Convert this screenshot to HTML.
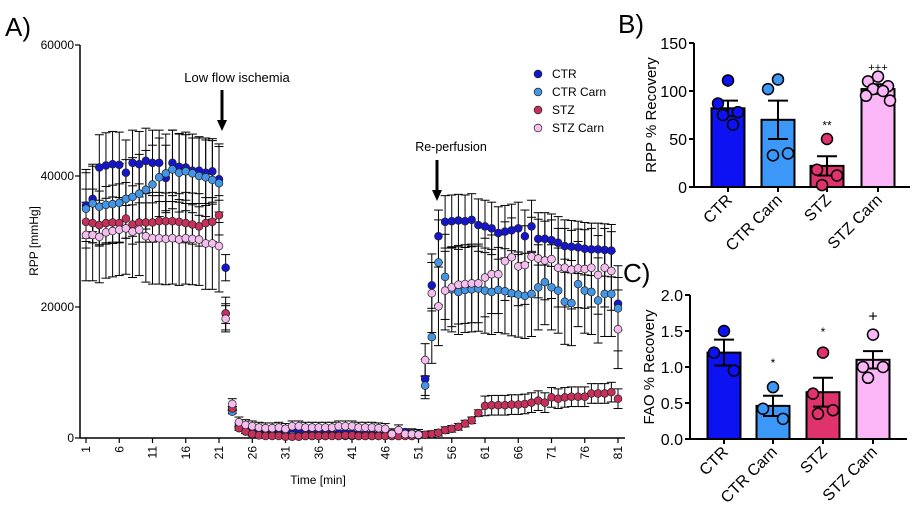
<!DOCTYPE html>
<html><head><meta charset="utf-8"><style>
html,body{margin:0;padding:0;background:#fff;}
svg{display:block;font-family:"Liberation Sans",sans-serif;}
</style></head><body>
<svg id="fig" width="918" height="512" viewBox="0 0 918 512"></svg>
<script>
// ---------- Panel A data ----------
const minutes = Array.from({length:81},(_,i)=>i+1);
const xTickLabels = ["1","6","11","16","21","26","31","36","41","46","51","56","61","66","71","76","81"];
const yTickLabelsA = [0,20000,40000,60000];
const seriesNames = ["CTR","CTR Carn","STZ","STZ Carn"];
const ctr = [35500,36500,41300,41600,41800,41700,40500,42000,41800,42300,42000,42000,39700,42000,41400,41300,40800,40800,40500,40700,39500,
26000,4500,2000,1500,1200,900,700,900,1200,
800,1000,900,800,700,700,800,700,700,800,700,600,600,600,500,500,
700,800,900,700,600,
9000,23300,30800,33000,33100,33200,33100,33300,32500,32300,32000,31300,31500,31700,32000,30800,32300,30400,30400,30200,29800,29300,29200,29100,28900,28800,28800,28700,28600,20500];
const ctrCarn = [35000,35800,35300,35600,35700,35900,36500,36800,37300,37900,38700,39800,40400,41000,40500,40700,40400,40000,39800,39400,38900,
19000,4000,1500,1000,600,500,400,400,400,
300,400,300,300,300,300,300,400,300,300,300,300,300,300,300,300,
300,300,400,300,400,
8000,15400,26800,24600,22700,22300,22600,22700,22800,22500,22300,22600,22400,22100,21900,21700,22000,23000,23800,23000,22500,20800,20600,23500,22500,22300,21000,22000,22000,19800];
const stz = [33000,32800,32500,32800,32900,32800,33500,32600,32900,32900,32900,33100,33100,33100,33000,32800,32600,32300,32800,33000,34000,
19000,4500,1500,1000,600,400,300,300,300,
200,200,200,300,300,300,300,300,300,400,400,300,300,300,300,300,
300,300,300,300,400,
500,600,800,1200,1400,1700,2200,2700,3800,4900,5000,5000,5000,5100,5100,5200,5400,5700,5400,6200,6000,6200,6300,6300,6300,6800,6800,6800,7000,6000];
const stzCarn = [31000,31000,30700,31400,31600,31800,32000,31500,31800,30800,30500,30500,30400,30500,30300,30500,30400,30300,29700,29700,29300,
18200,5200,2400,2000,1800,1600,1500,1500,1600,
1400,1800,1800,1600,1600,1600,1600,1600,1800,1800,1800,1600,1600,1600,1500,1400,
600,1200,600,600,500,
11900,22100,20100,22500,23000,23400,23500,23600,23600,24500,25000,25000,27000,27600,26200,26400,27700,27400,27100,27300,26000,26000,25700,25900,25800,26000,24900,26000,25500,16600];
const ctrErr = [5000,5000,5000,5000,5000,5000,5000,5000,5000,5000,5000,5000,5000,5000,5000,5000,5000,5000,5000,5000,5000,
2000,300,300,300,300,300,300,300,300,
300,300,300,300,300,300,300,300,300,300,300,300,300,300,300,300,
300,300,300,300,300,
3000,3500,4000,4000,4000,4000,4000,4000,4000,4000,4000,4000,4000,4000,4000,4000,4000,4000,4000,4000,4000,4000,4000,4000,4000,4000,4000,4000,4000,4000];
const ctrCarnErr = [6000,6000,6000,6000,6000,6000,6000,6000,6000,6000,6000,6000,6000,6000,6000,6000,6000,6000,6000,6000,6000,
2500,300,300,300,300,300,300,300,300,
300,300,300,300,300,300,300,300,300,300,300,300,300,300,300,300,
300,300,300,300,300,
1500,4000,6500,6500,6500,6500,6500,6500,6500,6500,6500,6500,6500,6500,6500,6500,6500,6500,6500,6500,6500,6500,6500,6500,6500,6500,6500,6500,6500,6500];
const stzErr = [3000,3000,3000,3000,3000,3000,3000,3000,3000,3000,3000,3000,3000,3000,3000,3000,3000,3000,3000,3000,3000,
1500,300,300,300,300,300,300,300,300,
300,300,300,300,300,300,300,300,300,300,300,300,300,300,300,300,
300,300,300,300,300,
500,500,500,500,500,500,500,500,500,1500,1500,1500,1500,1500,1500,1500,1500,1500,1500,1500,1500,1500,1500,1500,1500,1500,1500,1500,1500,1500];
const stzCarnErr = [7000,7000,7000,7000,7000,7000,7000,7000,7000,7000,7000,7000,7000,7000,7000,7000,7000,7000,7000,7000,7000,
2000,800,800,800,800,800,800,800,800,
800,800,800,800,800,800,800,800,800,800,800,800,800,800,800,800,
800,800,800,800,800,
2500,6000,6000,6000,6000,6000,6000,6000,6000,6000,6000,6000,6000,6000,6000,6000,6000,6000,6000,6000,6000,6000,6000,6000,6000,6000,6000,6000,6000,6000];

// ---------- Panel B/C data ----------
const groups = ["CTR","CTR Carn","STZ","STZ Carn"];
const rppMean = [82,70,22,102];
const rppSem = [8,20,10,5];
const rppPoints = [[111,87,78,75,65],[112,102,35,33],[50,18,12,2],[115,110,105,102,100,95,90]];
const rppSig = ["","","**","+++"];
const faoMean = [1.2,0.46,0.65,1.1];
const faoSem = [0.18,0.14,0.2,0.12];
const faoPoints = [[1.5,1.2,0.95],[0.72,0.42,0.28],[1.2,0.63,0.4,0.35],[1.45,1.0,1.0,0.85]];
const faoSig = ["","*","*","+"];

const NS="http://www.w3.org/2000/svg";
const svg=document.getElementById('fig');
function mk(tag,attrs,parent,text){const e=document.createElementNS(NS,tag);for(const k in attrs)e.setAttribute(k,attrs[k]);if(text!==undefined)e.textContent=text;(parent||svg).appendChild(e);return e;}

// ---------- Panel A ----------
const xA=m=>86+(m-1)*6.65;
const yA=v=>438-v*(131/20000);
const gA=mk('g',{});


let t=mk('text',{x:5,y:36,'font-size':26},gA,'A)');

let ax=mk('line',{x1:80,y1:45,x2:80,y2:438,stroke:'#000','stroke-width':1.5},gA);

ax=mk('line',{x1:80,y1:438,x2:625,y2:438,stroke:'#000','stroke-width':1.5},gA);

yTickLabelsA.forEach(v=>{
  mk('line',{x1:75,y1:yA(v),x2:80,y2:yA(v),stroke:'#000','stroke-width':1.2},gA);
  const tt=mk('text',{x:74,y:yA(v)+4,'font-size':12,'text-anchor':'end'},gA,String(v));
  
});
xTickLabels.forEach(s=>{
  const m=+s,x=xA(m);
  mk('line',{x1:x,y1:438,x2:x,y2:443,stroke:'#000','stroke-width':1.2},gA);
  const tt=mk('text',{x:0,y:0,'font-size':12,'text-anchor':'end',transform:`translate(${x+4},446) rotate(-90)`},gA,s);
  
});
t=mk('text',{x:38,y:241,'font-size':12,'text-anchor':'middle',transform:'rotate(-90 38 241)'},gA,'RPP [mmHg]');

t=mk('text',{x:318,y:484,'font-size':12,'text-anchor':'middle'},gA,'Time [min]');


const sers=[
  {v:ctr,e:ctrErr,c:'#1515d0',n:'ctr'},
  {v:ctrCarn,e:ctrCarnErr,c:'#4396e6',n:'ctr-carn'},
  {v:stz,e:stzErr,c:'#c8305c',n:'stz'},
  {v:stzCarn,e:stzCarnErr,c:'#f6bdf0',n:'stz-carn'}];
sers.forEach(s=>{
  const g=mk('g',{},gA);
  
  s.v.forEach((v,i)=>{
    const x=xA(minutes[i]),e=s.e[i];
    mk('line',{x1:x,y1:yA(v+e),x2:x,y2:yA(Math.max(0,v-e)),stroke:'#000','stroke-width':1},g);
    mk('line',{x1:x-4.5,y1:yA(v+e),x2:x+4.5,y2:yA(v+e),stroke:'#000','stroke-width':1},g);
    if(v-e>0)mk('line',{x1:x-4.5,y1:yA(v-e),x2:x+4.5,y2:yA(v-e),stroke:'#000','stroke-width':1},g);
  });
});
sers.forEach(s=>{
  const g=mk('g',{},gA);
  
  s.v.forEach((v,i)=>{
    const p=mk('circle',{cx:xA(minutes[i]),cy:yA(v),r:3.9,fill:s.c,stroke:'#222','stroke-width':0.7},g);
    
    
  });
});
// annotations
t=mk('text',{x:237,y:82,'font-size':13,'text-anchor':'middle'},gA,'Low flow ischemia');

mk('line',{x1:222,y1:90,x2:222,y2:122,stroke:'#000','stroke-width':3},gA);
mk('polygon',{points:'217,120 227,120 222,131',fill:'#000'},gA);
t=mk('text',{x:451,y:151,'font-size':12.5,'text-anchor':'middle'},gA,'Re-perfusion');

mk('line',{x1:437,y1:160,x2:437,y2:192,stroke:'#000','stroke-width':3},gA);
mk('polygon',{points:'432,190 442,190 437,201',fill:'#000'},gA);
// legend
const lg=mk('g',{},gA);

sers.forEach((s,i)=>{
  const y=74+i*18;
  const e=mk('g',{},lg);
  
  mk('circle',{cx:538,cy:y,r:3.9,fill:s.c,stroke:'#222','stroke-width':0.7},e);
  mk('text',{x:552,y:y+4,'font-size':12},e,seriesNames[i]);
});

// ---------- Bar panels ----------
const barCols=['#0c12f2','#3c98f8','#e0336d','#fab6f6'];
function barPanel(o){
  const g=mk('g',{});
  
  const y=v=>o.y0-(v/o.max)*(o.y0-o.yTop);
  const lab=mk('text',{x:o.lx,y:o.ly,'font-size':26},g,o.label);
  
  mk('line',{x1:o.ax,y1:o.yTop,x2:o.ax,y2:o.y0,stroke:'#000','stroke-width':2},g);
  mk('line',{x1:o.ax,y1:o.y0,x2:o.xEnd,y2:o.y0,stroke:'#000','stroke-width':2},g);
  o.ticks.forEach(v=>{
    mk('line',{x1:o.ax-5,y1:y(v),x2:o.ax,y2:y(v),stroke:'#000','stroke-width':2},g);
    const tt=mk('text',{x:o.ax-7,y:y(v)+6,'font-size':16,'text-anchor':'end'},g,o.fmt(v));
    
  });
  const yl=mk('text',{x:0,y:0,'font-size':15,'text-anchor':'middle',transform:`translate(${o.ylx},${(o.yTop+o.y0)/2}) rotate(-90)`},g,o.ytitle);
  
  groups.forEach((gn,i)=>{
    const cx=o.cx[i],m=o.mean[i],s=o.sem[i];
    const b=mk('rect',{x:cx-16.5,y:y(m),width:33,height:o.y0-y(m),fill:barCols[i],stroke:'#000','stroke-width':2},g);
    
    
    mk('line',{x1:cx,y1:y(m-s),x2:cx,y2:y(m+s),stroke:'#000','stroke-width':2},g);
    mk('line',{x1:cx-10,y1:y(m+s),x2:cx+10,y2:y(m+s),stroke:'#000','stroke-width':2},g);
    mk('line',{x1:cx-10,y1:y(m-s),x2:cx+10,y2:y(m-s),stroke:'#000','stroke-width':2},g);
    const pts=o.pts[i],off=[0,-10,10,-5,5,-12,12];
    pts.forEach((p,j)=>{
      const c=mk('circle',{cx:cx+off[j%off.length],cy:y(p),r:5.5,fill:barCols[i],stroke:'#000','stroke-width':1.5},g);
      
      
    });
    if(o.sig[i]){
      const st=mk('text',{x:cx,y:y(o.sigY[i]),'font-size':o.sig[i].indexOf('+')>=0?(o.sig[i].length>1?11:16):12,'text-anchor':'middle'},g,o.sig[i]);
      
    }
    mk('line',{x1:cx,y1:o.y0,x2:cx,y2:o.y0+5,stroke:'#000','stroke-width':2},g);
    const tl=mk('text',{x:0,y:0,'font-size':16,'text-anchor':'end',transform:`translate(${cx+5},${o.y0+14}) rotate(-45)`},g,gn);
    
  });
}
barPanel({name:'panel-b',label:'B)',lx:618,ly:33,ax:694,xEnd:910,yTop:43,y0:187,max:150,ticks:[0,50,100,150],fmt:v=>String(v),
  ytitle:'RPP % Recovery',ylx:656,cx:[728,778,827,878],mean:rppMean,sem:rppSem,pts:rppPoints,sig:rppSig,sigY:[0,0,60,121]});
barPanel({name:'panel-c',label:'C)',lx:623,ly:282,ax:690,xEnd:907,yTop:295,y0:439,max:2,ticks:[0,0.5,1,1.5,2],fmt:v=>v.toFixed(1),
  ytitle:'FAO % Recovery',ylx:654,cx:[724,773,823,873],mean:faoMean,sem:faoSem,pts:faoPoints,sig:faoSig,sigY:[0,1.0,1.43,1.63]});
</script>
</body></html>
